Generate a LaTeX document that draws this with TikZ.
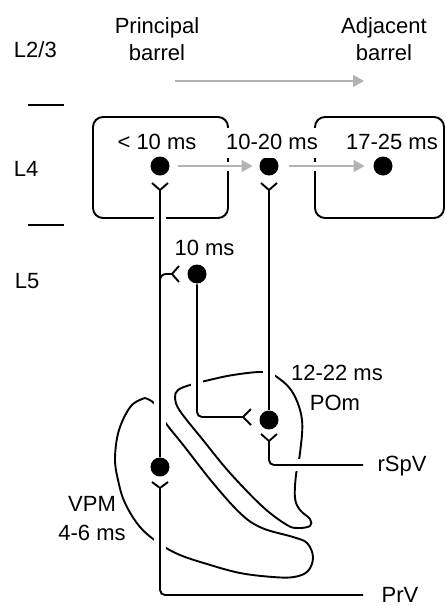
\documentclass[tikz,border=0pt]{standalone}
\usepackage{fontspec}
\setmainfont{Liberation Sans}
\usetikzlibrary{arrows.meta}
\definecolor{arrgray}{HTML}{B3B3B3}
\pgfdeclarelayer{bg}
\pgfdeclarelayer{cover}
\pgfsetlayers{bg,cover,main}
\begin{document}
\begin{tikzpicture}[x=1pt,y=-1pt, line width=1.9pt,
  every node/.style={font=\fontsize{22}{27}\selectfont, inner sep=0pt},
  dot/.style={circle, fill=black, draw=none, minimum size=19pt, inner sep=0pt},
  lbl/.style={anchor=base},
  ol/.style={draw=black, line width=1.9pt},
  cover/.style={draw=white, line width=#1},
  garrow/.style={draw=arrgray, line width=1.9pt, -{Triangle[length=11pt,width=12pt]}},
  syn/.style={line width=1.9pt, line cap=butt, line join=miter},
  conn/.style={line width=1.9pt},
]
\useasboundingbox (0,0) rectangle (446,606);
\clip (0,0) rectangle (446,606);

% dots (neurons)
\node[dot] (p4) at (160,166) {};
\node[dot] (m4) at (269,166) {};
\node[dot] (a4) at (383,166) {};
\node[dot] (l5) at (197,274) {};
\node[dot] (pom) at (269,420) {};
\node[dot] (vpm) at (160,467) {};

% synapse points and line ends
\coordinate (sp) at (160,190);
\coordinate (sm) at (269,190);
\coordinate (sl5) at (172,274);
\coordinate (br) at (160,292);
\coordinate (spom) at (243,417);
\coordinate (spomin) at (269,441);
\coordinate (svpm) at (160,488);
\coordinate (rspv) at (363,465);
\coordinate (prv) at (363,595);
\coordinate (t1) at (175,81);
\coordinate (t2) at (364,81);

% layer labels and separators
\node[anchor=base west] (l23) at (13,57) {L2/3};
\node[anchor=base west] (l4) at (13,176) {L4};
\node[anchor=base west] (l5lab) at (14,288) {L5};
\draw[conn] (28,105) -- (64,105);
\draw[conn] (28,225) -- (64,225);

\node[lbl, align=center] (pb) at (157,60) {Principal\\barrel};
\node[lbl, align=center] (ab) at (384,60) {Adjacent\\barrel};

\begin{pgfonlayer}{bg}
% barrels
\draw[ol, rounded corners=10pt] (93,117) rectangle (228,218);
\draw[ol, rounded corners=10pt] (315,117) rectangle (444,218);
% VPM outline
\draw[ol, line join=round] plot[smooth, tension=0.6] coordinates {(145,398) (131,406) (119,430) (115,458) (118,480) (125,503) (140,527) (160,544) (180,555) (207,564) (240,573) (273,577) (294,577) (308,571) (313,557) (307,543) (293,537) (262,528) (241,514) (213,483) (184,446) (165,422) (155,404) (145,398)};
% POm outline
\draw[ol] plot[smooth cycle, tension=0.6] coordinates {(190,385) (205,381) (233,375) (263,372) (277,377) (293,393) (302,420) (300,453) (296,475) (295,498) (300,510) (310,519) (310,526) (298,528) (287,525) (263,507) (230,473) (203,440) (180,411) (175,398) (178,390)};
\end{pgfonlayer}

\begin{pgfonlayer}{cover}
\draw[cover=12pt] (vpm.center) -- (sp);
\draw[cover=12pt] (pom.center) -- (sm);
\draw[cover=12pt] (l5.center) |- (spom);
\draw[cover=12pt] (spomin) |- (rspv);
\draw[cover=12pt] (svpm) |- (prv);
\draw[cover=9pt] (p4.center) -- (m4.center);
\draw[cover=9pt] (m4.center) -- (a4.center);
\end{pgfonlayer}

% connectors
\draw[conn] (vpm) -- (sp);
\draw[conn] (pom) -- (sm);
\draw[conn, rounded corners=5pt] (l5) |- (spom);
\draw[conn, rounded corners=5pt] (spomin) |- (rspv);
\draw[conn, rounded corners=5pt] (svpm) |- (prv);
\draw[conn, rounded corners=6pt] (sl5) -| (br);

% synapses
\draw[syn] ([shift={(-8,-7)}]sp) -- (sp) -- ([shift={(8,-7)}]sp);
\draw[syn] ([shift={(-8,-7)}]sm) -- (sm) -- ([shift={(8,-7)}]sm);
\draw[syn] ([shift={(-8,-7)}]spomin) -- (spomin) -- ([shift={(8,-7)}]spomin);
\draw[syn] ([shift={(-8,-6)}]svpm) -- (svpm) -- ([shift={(8,-6)}]svpm);
\draw[syn] ([shift={(7,-8)}]sl5) -- (sl5) -- ([shift={(7,8)}]sl5);
\draw[syn] ([shift={(8,-8)}]spom) -- (spom) -- ([shift={(8,8)}]spom);

% gray arrows
\draw[garrow] ([xshift=8pt]p4.east) -- ([xshift=-6pt]m4.west);
\draw[garrow] ([xshift=9.5pt]m4.east) -- ([xshift=-8pt]a4.west);
\draw[garrow] (t1) -- (t2);

% labels
\node[lbl] (t10) at (157,149) {< 10 ms};
\node[lbl, fill=white, text height=17pt, text depth=5pt, inner xsep=2pt, inner ysep=4pt] (t1020) at (272,149) {10-20 ms};
\node[lbl] (t1725) at (392,149) {17-25 ms};
\node[lbl] (t10b) at (204.5,255) {10 ms};
\node[lbl] (t1222) at (337,380) {12-22 ms};
\node[lbl] (tpom) at (335,410) {POm};
\node[lbl] (trspv) at (402,471) {rSpV};
\node[lbl] (tprv) at (400,602) {PrV};
\node[lbl] (tvpm) at (92,511) {VPM};
\node[lbl] (t46) at (92,540) {4-6 ms};
\end{tikzpicture}
\end{document}
